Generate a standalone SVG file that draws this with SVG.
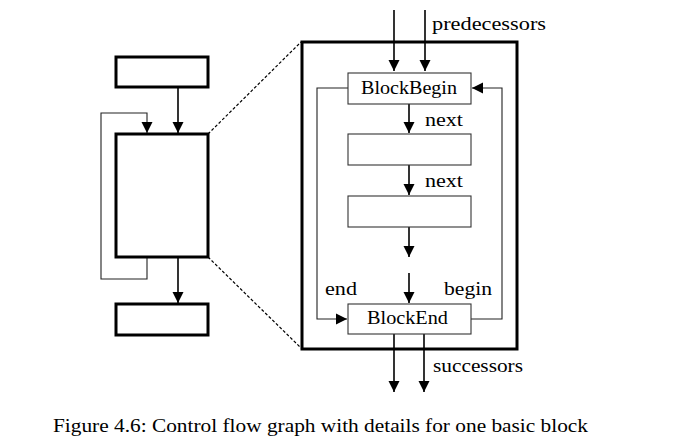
<svg xmlns="http://www.w3.org/2000/svg" width="682" height="446" viewBox="0 0 682 446">
<style>
.heavy{fill:#fff;stroke:#000;stroke-width:3}
.thin{fill:#fff;stroke:#333;stroke-width:1.1}
.conn{fill:none;stroke:#000;stroke-width:1.6}
.loop{fill:none;stroke:#222;stroke-width:1.1}
.dash{fill:none;stroke:#000;stroke-width:1.2;stroke-dasharray:3,2}
text{font-family:"Liberation Serif","DejaVu Serif",serif;fill:#000}
.lbl{font-size:19px}
</style>
<defs>
<marker id="ah" markerUnits="userSpaceOnUse" markerWidth="12" markerHeight="12" refX="11" refY="6" orient="auto">
<path d="M0,0.5 L11,6 L0,11.5 z" fill="#000"/>
</marker>
</defs>
<rect width="682" height="446" fill="#fff"/>
<g id="connectors">
<path class="conn" d="M178,87 V133" marker-end="url(#ah)"/>
<path class="loop" d="M147,257 V279 H101 V113 H147 V133" marker-end="url(#ah)"/>
<path class="conn" d="M178,257 V303" marker-end="url(#ah)"/>
<path class="dash" d="M208,134 L301,42"/>
<path class="dash" d="M208,257 L301,348"/>
<path class="conn" d="M394,10 V71" marker-end="url(#ah)"/>
<path class="conn" d="M425,10 V71" marker-end="url(#ah)"/>
<path class="conn" d="M409,104 V133" marker-end="url(#ah)"/>
<path class="conn" d="M409,165 V195" marker-end="url(#ah)"/>
<path class="conn" d="M409,227 V257" marker-end="url(#ah)"/>
<path class="conn" d="M409,273 V303" marker-end="url(#ah)"/>
<path class="loop" d="M348,88 H317 V319 H347" marker-end="url(#ah)"/>
<path class="loop" d="M471,319 H502 V88 H472" marker-end="url(#ah)"/>
<path class="conn" d="M394,334 V392" marker-end="url(#ah)"/>
<path class="conn" d="M424,334 V392" marker-end="url(#ah)"/>
</g>
<g id="cfg-top"><rect class="heavy" x="116" y="57" width="92" height="30"/></g>
<g id="cfg-mid"><rect class="heavy" x="116" y="134" width="92" height="123"/></g>
<g id="cfg-bot"><rect class="heavy" x="116" y="304" width="92" height="31"/></g>
<g id="detail"><rect x="302" y="42" width="215" height="307" fill="none" stroke="#000" stroke-width="3"/></g>
<g id="blockbegin"><rect class="thin" x="348" y="73" width="123" height="31"/><text class="lbl" x="361" y="94" textLength="96" lengthAdjust="spacingAndGlyphs">BlockBegin</text></g>
<g id="block2"><rect class="thin" x="348" y="134" width="123" height="31"/></g>
<g id="block3"><rect class="thin" x="348" y="196" width="123" height="31"/></g>
<g id="blockend"><rect class="thin" x="348" y="304" width="123" height="30"/><text class="lbl" x="367" y="324" textLength="81" lengthAdjust="spacingAndGlyphs">BlockEnd</text></g>
<g id="labels">
<text class="lbl" x="432" y="30" textLength="114" lengthAdjust="spacingAndGlyphs">predecessors</text>
<text class="lbl" x="425" y="126" textLength="38" lengthAdjust="spacingAndGlyphs">next</text>
<text class="lbl" x="425" y="187" textLength="38" lengthAdjust="spacingAndGlyphs">next</text>
<text class="lbl" x="325" y="295" textLength="32" lengthAdjust="spacingAndGlyphs">end</text>
<text class="lbl" x="444" y="295" textLength="48" lengthAdjust="spacingAndGlyphs">begin</text>
<text class="lbl" x="433" y="372" textLength="90" lengthAdjust="spacingAndGlyphs">successors</text>
<text class="lbl" x="53" y="432" textLength="535" lengthAdjust="spacingAndGlyphs">Figure 4.6: Control flow graph with details for one basic block</text>
</g>
</svg>
